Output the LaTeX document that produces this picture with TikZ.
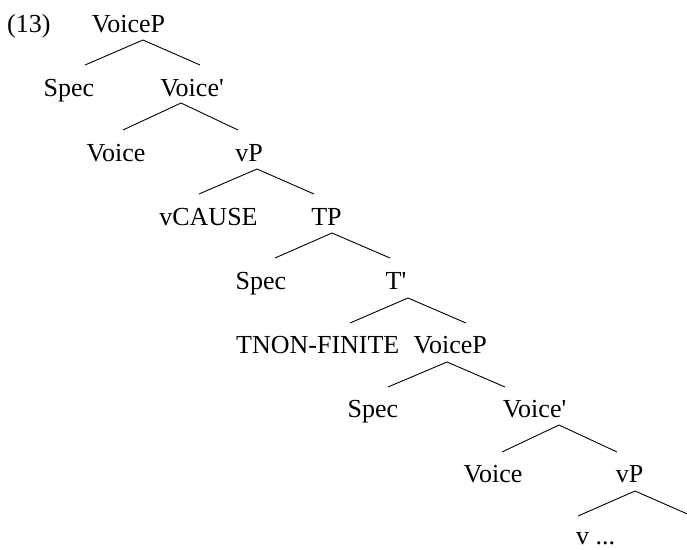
\documentclass[tikz,border=0pt]{standalone}
\usepackage{fontspec}
\setmainfont{Liberation Serif}
\usepackage{tikz}

\begin{document}
\begin{tikzpicture}[x=1pt,y=-1pt,
    lbl/.style={anchor=base,inner sep=0pt,font=\fontsize{26}{30}\selectfont},
    br/.style={line width=0.9pt}]
  \useasboundingbox (0,0) rectangle (687,549);
  % labels, one row every 64pt
  \node[lbl,anchor=base west] (num) at (7,32) {(13)};
  \node[lbl] (voicepA) at (128.5,32) {VoiceP};
  \node[lbl] (specA) at (69,96) {Spec};
  \node[lbl] (voicebarA) at (192,96) {Voice\textquotesingle};
  \node[lbl] (voiceA) at (116,161) {Voice};
  \node[lbl] (vpA) at (249,161) {vP};
  \node[lbl] (vcause) at (208.5,225) {vCAUSE};
  \node[lbl] (tp) at (326.5,225) {TP};
  \node[lbl] (specB) at (261,289) {Spec};
  \node[lbl] (tbar) at (396,289) {T\textquotesingle};
  \node[lbl,anchor=base west] (tnon) at (236,353) {TNON-FINITE};
  \node[lbl,anchor=base east] (voicepB) at (487,353) {VoiceP};
  \node[lbl] (specC) at (373,417) {Spec};
  \node[lbl] (voicebarB) at (534.5,417) {Voice\textquotesingle};
  \node[lbl] (voiceB) at (493,482) {Voice};
  \node[lbl] (vpB) at (629.5,482) {vP};
  \node[lbl] (vrest) at (595.5,544.5) {v ...};
  \coordinate (vcomp) at (692,516);
  % branches
  \draw[br] ([shift={(16,-31)}]specA.base) -- ([shift={(14.5,8)}]voicepA.base) -- ([shift={(8,-31)}]voicebarA.base);
  \draw[br] ([shift={(7,-31)}]voiceA.base) -- ([shift={(-11,7)}]voicebarA.base) -- ([shift={(-11,-31)}]vpA.base);
  \draw[br] ([shift={(-9.5,-31)}]vcause.base) -- ([shift={(8,8)}]vpA.base) -- ([shift={(-12.5,-31)}]tp.base);
  \draw[br] ([shift={(14,-31)}]specB.base) -- ([shift={(5.5,8)}]tp.base) -- ([shift={(-6,-31)}]tbar.base);
  \draw[br] ([shift={(114,-30)}]tnon.base west) -- ([shift={(12,9)}]tbar.base) -- ([shift={(-21,-30)}]voicepB.base east);
  \draw[br] ([shift={(15,-30)}]specC.base) -- ([shift={(-40,9)}]voicepB.base east) -- ([shift={(-29.5,-30)}]voicebarB.base);
  \draw[br] ([shift={(9,-30)}]voiceB.base) -- ([shift={(24.5,8)}]voicebarB.base) -- ([shift={(-12.5,-30)}]vpB.base);
  \draw[br] ([shift={(-17.5,-28.5)}]vrest.base) -- ([shift={(5.5,9)}]vpB.base) -- (vcomp);
\end{tikzpicture}
\end{document}
